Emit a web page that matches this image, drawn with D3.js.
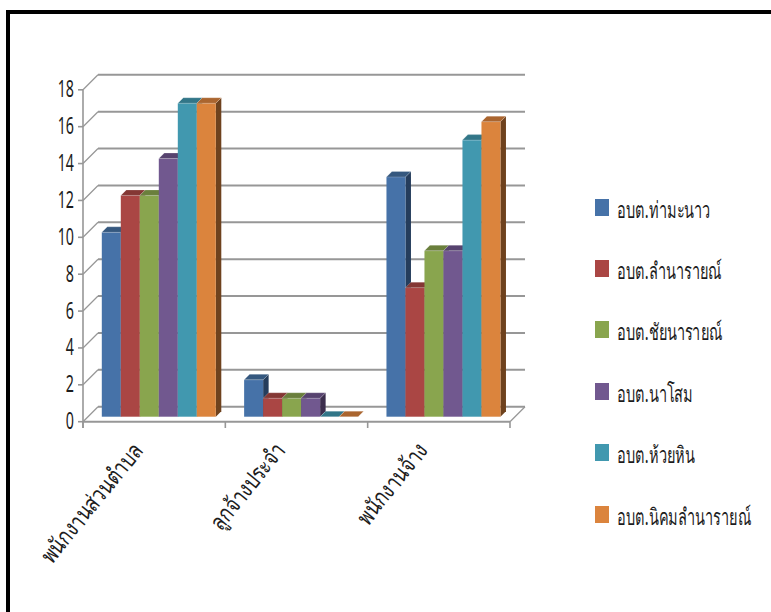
<!DOCTYPE html>
<html><head><meta charset="utf-8">
<script src="https://cdnjs.cloudflare.com/ajax/libs/d3/7.8.5/d3.min.js"></script>
<style>html,body{margin:0;padding:0;background:#fff}svg{display:block}text{font-family:"Noto Sans","DejaVu Sans",sans-serif;fill:#1c1c1c}</style>
</head><body><svg id="c" width="771" height="612"></svg>
<script>
const categories=["พนักงานส่วนตำบล","ลูกจ้างประจำ","พนักงานจ้าง"];
const seriesNames=["อบต.ท่ามะนาว","อบต.ลำนารายณ์","อบต.ชัยนารายณ์","อบต.นาโสม","อบต.ห้วยหิน","อบต.นิคมลำนารายณ์"];
const s1=[10,2,13],s2=[12,1,7],s3=[12,1,9],s4=[14,1,9],s5=[17,0,15],s6=[17,0,16];
const seriesValues=[s1,s2,s3,s4,s5,s6];
const colors=["#4672a8","#aa4644","#89a54e","#71588f","#4198af","#db843d"];
const tops=["#35587f","#843734","#6a7f3c","#57436f","#327688","#aa652f"];
const sides=["#253d5c","#5c2524","#4a582a","#3c2e4d","#235260","#6e421e"];
const ticks=d3.range(0,19,2);

const svg=d3.select("#c");
svg.append("rect").attr("x",8).attr("y",12).attr("width",775).attr("height",620).attr("fill","none").attr("stroke","#000").attr("stroke-width",4);

const y=d3.scaleLinear().domain([0,18]).range([421.7,89.8]);
const x0=d3.scaleBand().domain(categories).range([83,510]);
const x1=d3.scaleBand().domain(d3.range(6)).range([18.8,132.8]);
const dWall=15,dBar=5.5,dBase=5;

const g=svg.append("g");
const grid="#979797";
ticks.forEach(t=>{
 const yy=y(t);
 g.append("line").attr("x1",83+dWall).attr("x2",525).attr("y1",yy-dWall).attr("y2",yy-dWall).attr("stroke",grid).attr("stroke-width",2);
 g.append("line").attr("x1",83).attr("x2",83+dWall).attr("y1",yy).attr("y2",yy-dWall).attr("stroke",grid).attr("stroke-width",1.3);
 g.append("line").attr("x1",78).attr("x2",83).attr("y1",yy).attr("y2",yy).attr("stroke",grid).attr("stroke-width",1.6);
 g.append("text").attr("transform",`translate(74,${yy+7.5}) scale(0.62,1)`).attr("text-anchor","end").attr("font-size",23).text(t);
});
g.append("line").attr("x1",83).attr("x2",83).attr("y1",y(18)).attr("y2",428).attr("stroke",grid).attr("stroke-width",1.6);
g.append("line").attr("x1",83).attr("x2",510).attr("y1",y(0)).attr("y2",y(0)).attr("stroke",grid).attr("stroke-width",2);
g.append("line").attr("x1",510).attr("x2",525).attr("y1",y(0)).attr("y2",y(0)-dWall).attr("stroke",grid).attr("stroke-width",1.3);
categories.concat(["end"]).forEach((c,i)=>{
 const xx=i<3?x0(c):510;
 g.append("line").attr("x1",xx).attr("x2",xx).attr("y1",y(0)).attr("y2",428).attr("stroke",grid).attr("stroke-width",1.6);
});

categories.forEach((c,ci)=>{
 seriesValues.forEach((vals,si)=>{
  const v=vals[ci],bx=x0(c)+x1(si),w=x1.bandwidth(),by=y(0)-dBase,ty=y(v)-dBase;
  const b=svg.append("g");
  b.append("path").attr("d",`M${bx+w},${by}L${bx+w+dBar},${by-dBar}L${bx+w+dBar},${ty-dBar}L${bx+w},${ty}Z`).attr("fill",sides[si]);
  b.append("rect").attr("x",bx).attr("y",ty).attr("width",w).attr("height",by-ty).attr("fill",colors[si]);
  b.append("path").attr("d",`M${bx},${ty}L${bx+dBar},${ty-dBar}L${bx+w+dBar},${ty-dBar}L${bx+w},${ty}Z`).attr("fill",tops[si]).attr("stroke","#fff").attr("stroke-opacity",0.3).attr("stroke-width",0.7);
 });
});

categories.forEach(c=>{
 const xx=x0(c)+x0.bandwidth()/2-10;
 svg.append("text").attr("transform",`translate(${xx},451) rotate(-51) scale(0.82,1.04)`).attr("text-anchor","end").attr("font-size",22.5).text(c);
});

const legY=[207.5,268.5,329.5,391.5,452.5,514.5];
seriesNames.forEach((n,i)=>{
 svg.append("rect").attr("x",595).attr("y",legY[i]-8.5).attr("width",14).attr("height",17).attr("fill",colors[i]);
 svg.append("text").attr("transform",`translate(617,${legY[i]+10}) scale(0.66,1.05)`).attr("font-size",22).text(n);
});
</script></body></html>
